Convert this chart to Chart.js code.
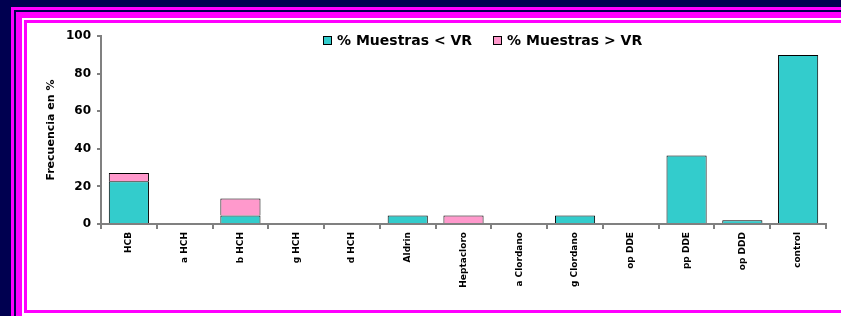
<!DOCTYPE html>
<html>
<head>
<meta charset="utf-8">
<script src="https://cdn.jsdelivr.net/npm/chart.js@4"></script>
<style>
  html, body { margin: 0; padding: 0; }
  body { width: 841px; height: 316px; background: #000050; position: relative; overflow: hidden; }
  .box { position: absolute; box-sizing: border-box; }
  #f1 { left: 11px; top: 7px; width: 900px; height: 400px; border-left: 3px solid #ff00ff; border-top: 3px solid #ff00ff; background: #000050; }
  #f2 { left: 16px; top: 12px; width: 900px; height: 400px; background: #ff00ff; }
  #f3 { left: 22px; top: 18px; width: 900px; height: 400px; background: #ffffff; }
  #f4 { left: 24px; top: 20px; width: 900px; height: 293px; border: 3px solid #ff00ff; border-right: none; background: #ffffff; }
  #wrap { position: absolute; left: 27px; top: 23px; width: 814px; height: 287px; }
  #legend { position: absolute; left: 323px; top: 32px; font: bold 14px "DejaVu Sans", Verdana, sans-serif; color: #000; white-space: nowrap; }
  #legend span.item { display: inline-block; margin-right: 21px; }
  #legend i { display: inline-block; width: 9px; height: 9px; box-sizing: border-box; border: 1px solid #000; margin-right: 5px; vertical-align: 0px; }
</style>
</head>
<body>
<div class="box" id="f1"></div>
<div class="box" id="f2"></div>
<div class="box" id="f3"></div>
<div class="box" id="f4"></div>
<div id="wrap"><canvas id="chart" width="814" height="287"></canvas></div>
<div id="legend"></div>
<script>
// Datos
const categories = ['HCB', 'a HCH', 'b HCH', 'g HCH', 'd HCH', 'Aldrin', 'Heptacloro',
                    'a Clordano', 'g Clordano', 'op DDE', 'pp DDE', 'op DDD', 'control'];
const belowVR = [22.7, 0, 4.5, 0, 0, 4.5, 0, 0, 4.5, 0, 36.5, 2, 90];
const aboveVR = [4.5, 0, 9.1, 0, 0, 0, 4.5, 0, 0, 0, 0, 0, 0];
const seriesNames = ['% Muestras < VR', '% Muestras > VR'];
const seriesColors = ['#33cccc', '#ff99cc'];
const yTicks = [0, 20, 40, 60, 80, 100];

const font = 'DejaVu Sans';

// Leyenda en HTML
const legend = document.getElementById('legend');
seriesNames.forEach((name, i) => {
    const item = document.createElement('span');
    item.className = 'item';
    const sw = document.createElement('i');
    sw.style.background = seriesColors[i];
    item.appendChild(sw);
    item.appendChild(document.createTextNode(name));
    legend.appendChild(item);
});

const ctx = document.getElementById('chart').getContext('2d');
new Chart(ctx, {
    type: 'bar',
    data: {
        labels: categories,
        datasets: [
            { label: seriesNames[0], data: belowVR, backgroundColor: seriesColors[0], borderColor: '#000', borderWidth: 1 },
            { label: seriesNames[1], data: aboveVR, backgroundColor: seriesColors[1], borderColor: '#000', borderWidth: 1 }
        ]
    },
    options: {
        responsive: false,
        animation: false,
        layout: { padding: { left: 18, top: 13, right: 15, bottom: 0 } },
        datasets: { bar: { barPercentage: 0.72, categoryPercentage: 1 } },
        plugins: { legend: { display: false }, tooltip: { enabled: false } },
        scales: {
            x: {
                stacked: true,
                afterFit: s => { s.height = 86; },
                grid: { drawOnChartArea: false, color: '#808080', lineWidth: 2, tickLength: 5, offset: true },
                border: { color: '#808080', width: 2 },
                ticks: {
                    autoSkip: false, maxRotation: 90, minRotation: 90, padding: 3,
                    color: '#000', font: { family: font, size: 9, weight: 'bold' }
                }
            },
            y: {
                stacked: true,
                min: 0, max: 100,
                afterFit: s => { s.width = 56; },
                afterBuildTicks: s => { s.ticks = yTicks.map(v => ({ value: v })); },
                grid: { drawOnChartArea: false, color: '#808080', lineWidth: 2, tickLength: 4 },
                border: { color: '#808080', width: 2 },
                ticks: { padding: 6, color: '#000', font: { family: font, size: 12, weight: 'bold' } },
                title: {
                    display: true, text: 'Frecuencia en %', color: '#000', padding: 0,
                    font: { family: font, size: 11, weight: 'bold' }
                }
            }
        }
    }
});
</script>
</body>
</html>
